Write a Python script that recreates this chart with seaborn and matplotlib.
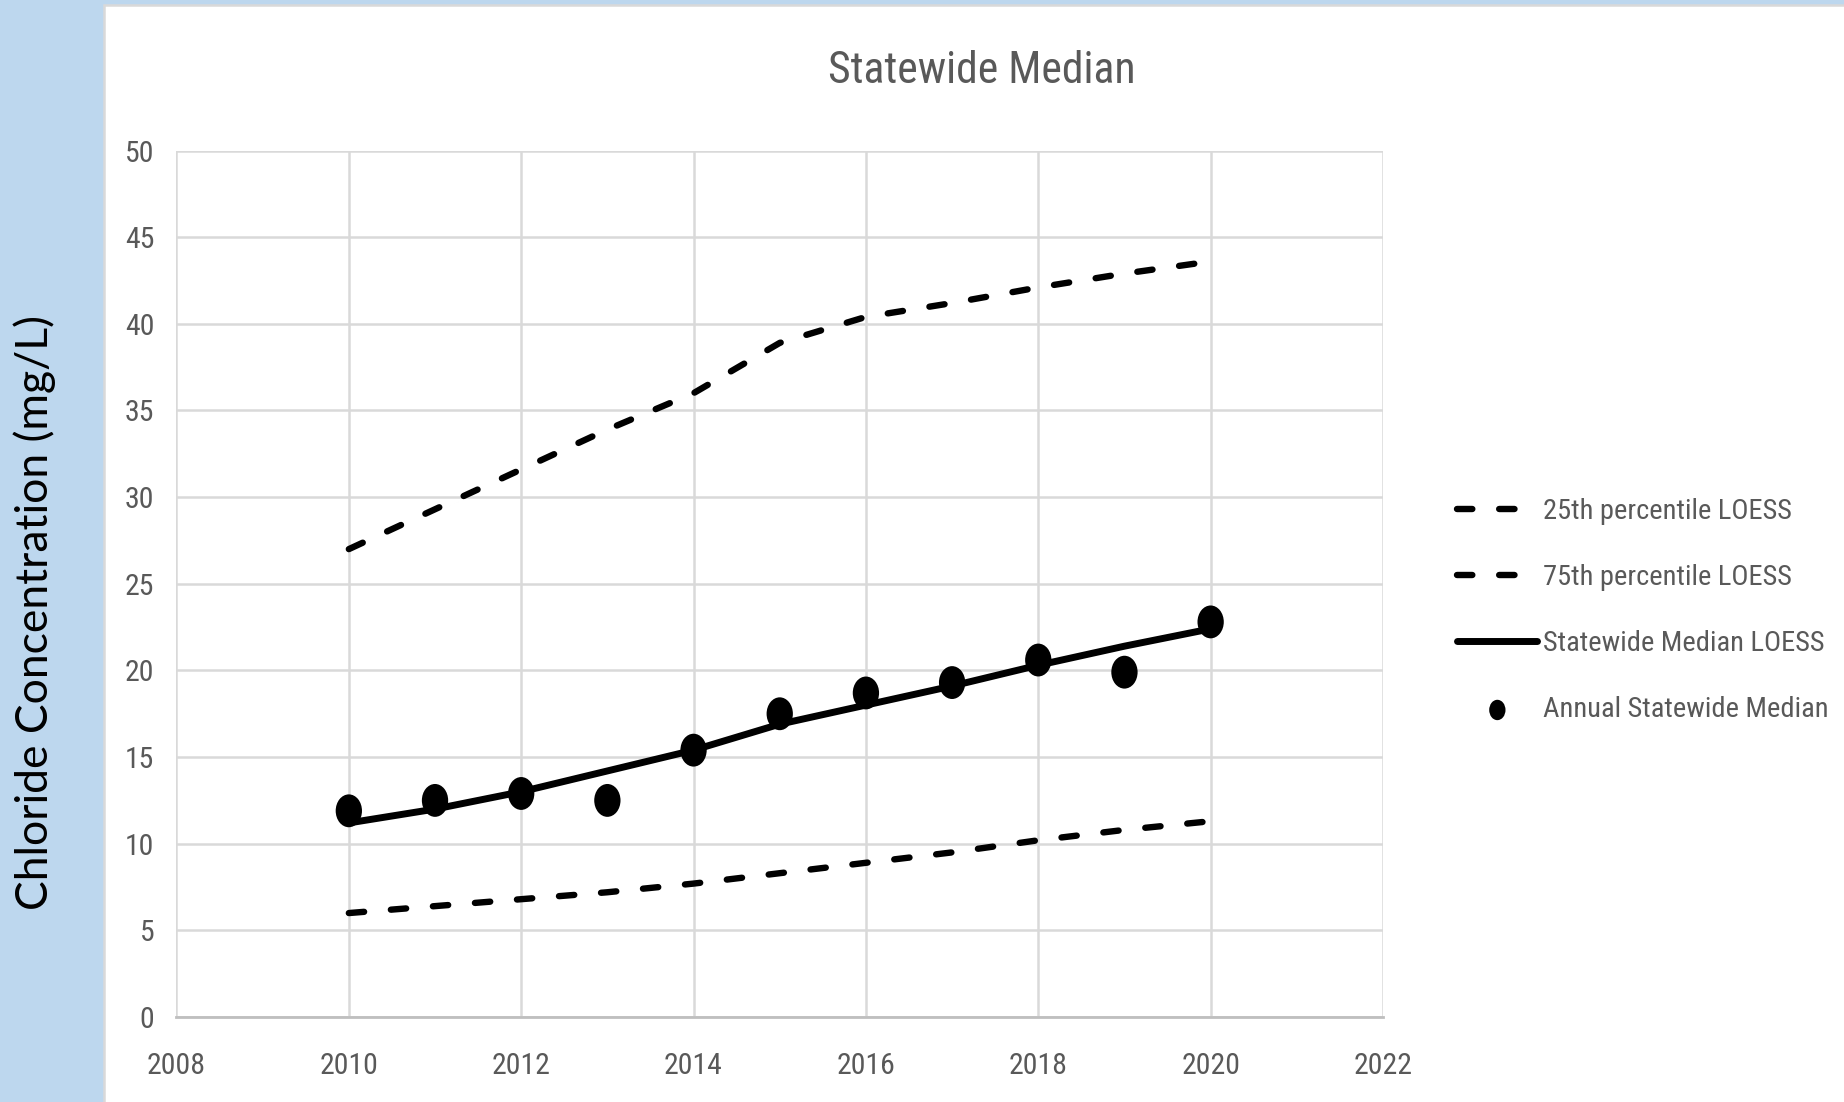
import numpy as np
import pandas as pd
import seaborn as sns
import matplotlib.pyplot as plt
from matplotlib.patches import Rectangle
from matplotlib.path import Path
from matplotlib.transforms import Affine2D

# values
years = [2010, 2011, 2012, 2013, 2014, 2015, 2016, 2017, 2018, 2019, 2020]
p25_loess = [6.0, 6.4, 6.8, 7.2, 7.7, 8.3, 8.9, 9.5, 10.2, 10.8, 11.3]
p75_loess = [27.0, 29.3, 31.6, 33.9, 36.0, 38.9, 40.4, 41.2, 42.1, 42.9, 43.6]
median_loess = [11.2, 12.0, 13.0, 14.2, 15.4, 16.9, 18.0, 19.1, 20.3, 21.4, 22.4]
annual_median = [11.9, 12.5, 12.9, 12.5, 15.4, 17.5, 18.7, 19.3, 20.6, 19.9, 22.8]

x_ticks = [2008, 2010, 2012, 2014, 2016, 2018, 2020, 2022]
y_ticks = [0, 5, 10, 15, 20, 25, 30, 35, 40, 45, 50]

df = pd.DataFrame({'year': years, 'p25': p25_loess, 'p75': p75_loess,
                   'med': median_loess, 'annual': annual_median})

sns.set_style('white')
narrow = ['Liberation Sans Narrow', 'Roboto Condensed', 'Open Sans Condensed',
          'Lato', 'DejaVu Sans']
plt.rcParams['font.family'] = narrow

fig = plt.figure(figsize=(18.44, 11.02), dpi=100)
fig.patch.set_facecolor('#BDD7EE')
# white chart panel
fig.add_artist(Rectangle((103.5 / 1844, -0.01), 1.0, (1102 - 5) / 1102 + 0.01,
                         transform=fig.transFigure, facecolor='white',
                         edgecolor='#D9D9D9', lw=1.8, zorder=0))

ax = fig.add_axes([0.0957, 0.0771, 0.750 - 0.0957, 0.8634 - 0.0771])
ax.set_facecolor('none')

dash = (2.4, 4.2)
sns.lineplot(data=df, x='year', y='p25', ax=ax, color='black', lw=4.6,
             dashes=False, label='25th percentile LOESS')
sns.lineplot(data=df, x='year', y='p75', ax=ax, color='black', lw=4.6,
             dashes=False, label='75th percentile LOESS')
for ln in ax.lines[:2]:
    ln.set_dashes(dash)
    ln.set_dash_capstyle('round')
sns.lineplot(data=df, x='year', y='med', ax=ax, color='black', lw=5.0,
             label='Statewide Median LOESS')

ellipse = Path.unit_circle().transformed(Affine2D().scale(0.8, 1.0))
sns.scatterplot(data=df, x='year', y='annual', ax=ax, color='black',
                marker=ellipse, s=560, edgecolor='none', zorder=5,
                label='Annual Statewide Median')

ax.set_xlim(2008, 2022)
ax.set_ylim(0, 50)
ax.set_xticks(x_ticks)
ax.set_yticks(y_ticks)
ax.grid(True, color='#D9D9D9', lw=1.8)
ax.set_axisbelow(True)
for side in ['top', 'right', 'left']:
    ax.spines[side].set_visible(False)
ax.spines['bottom'].set_color('#BFBFBF')
ax.spines['bottom'].set_linewidth(2.0)
ax.tick_params(axis='both', length=0, labelsize=21.5, labelcolor='#595959')
ax.tick_params(axis='y', pad=16)
ax.tick_params(axis='x', pad=25.5)
ax.set_xlabel('')
ax.set_ylabel('')

fig.text(0.5325, 0.936, 'Statewide Median', ha='center', va='center',
         fontsize=31.5, color='#595959')
fig.text(0.019, 0.444, 'Chloride Concentration (mg/L)', rotation=90,
         ha='center', va='center', fontsize=32, color='black',
         family=['Lato', 'DejaVu Sans'])

handles, labels = ax.get_legend_handles_labels()
ax.get_legend().remove()
fig.legend(handles, labels, loc='center left', bbox_to_anchor=(0.7765, 0.446),
           frameon=False, fontsize=20.5, labelcolor='#595959',
           handlelength=2.8, handletextpad=0.2, labelspacing=1.38,
           markerscale=0.62)

fig.savefig('out.png', dpi=100, facecolor=fig.get_facecolor())
